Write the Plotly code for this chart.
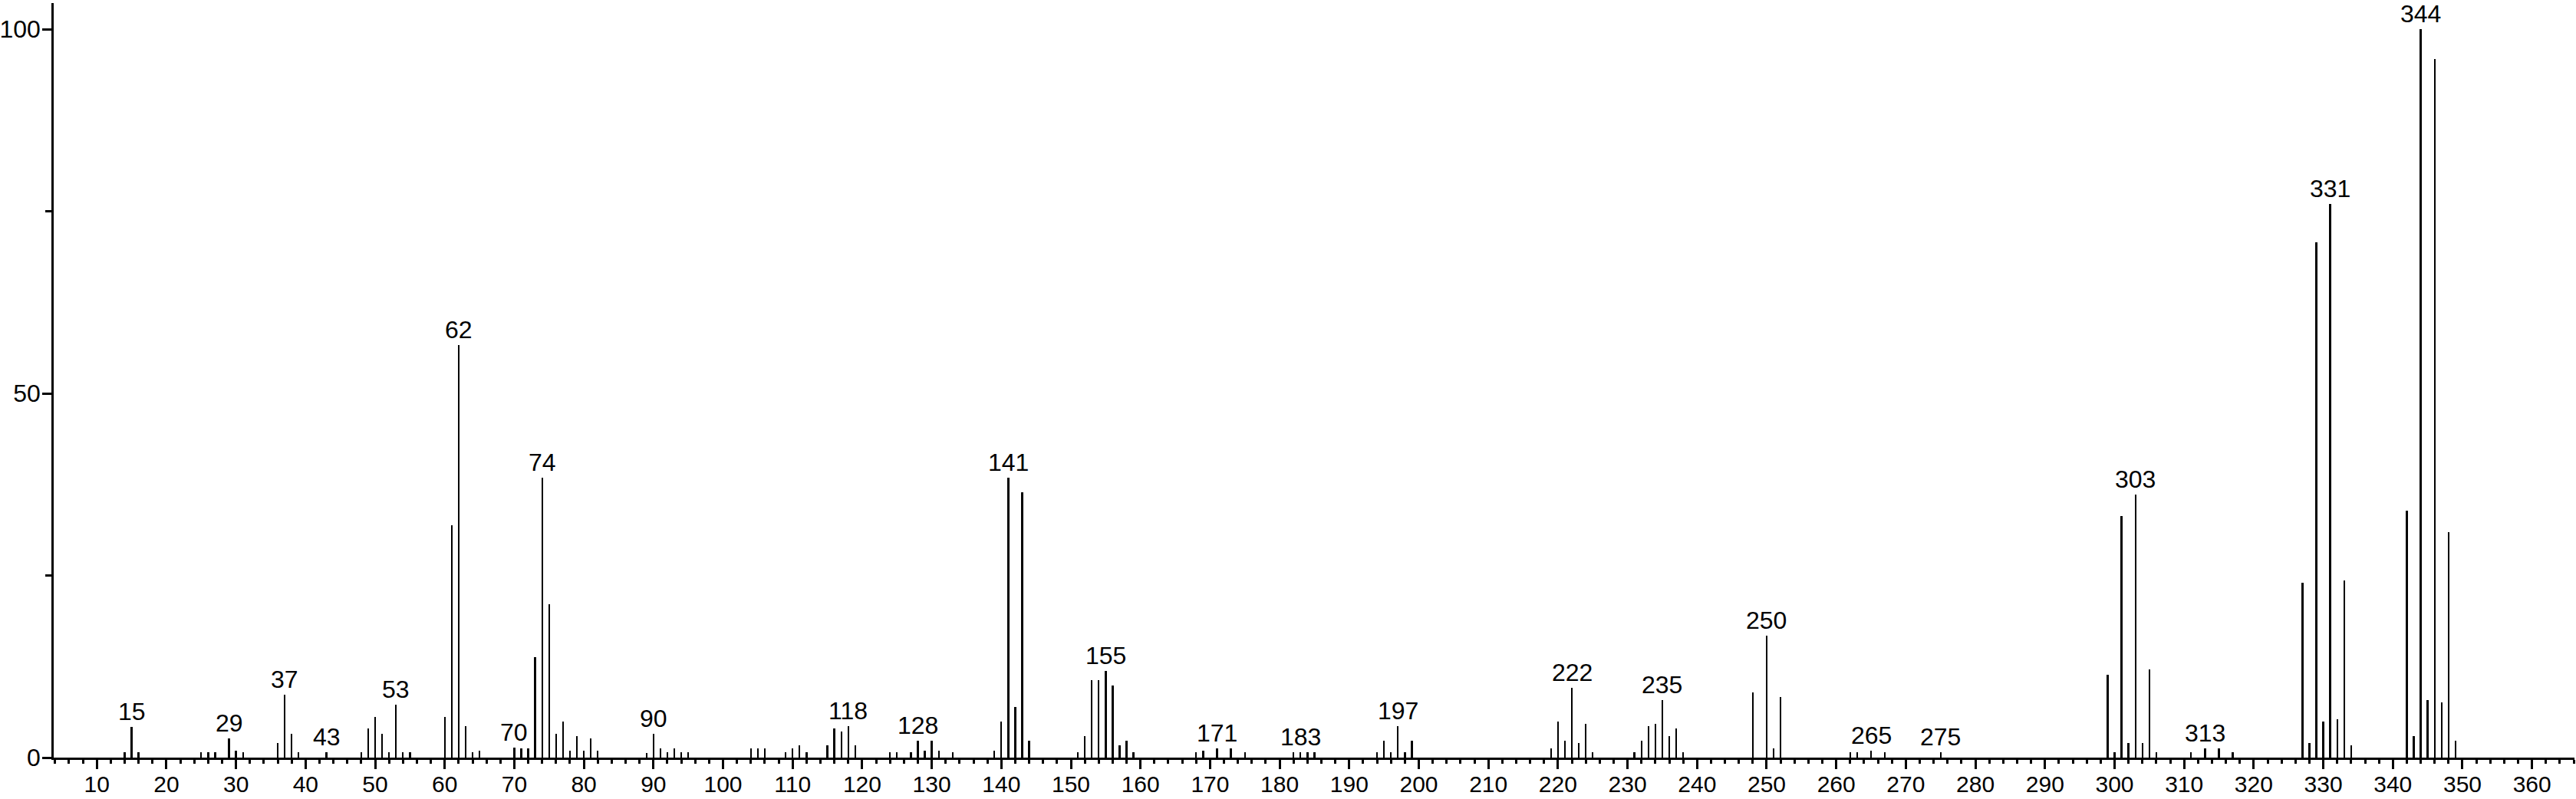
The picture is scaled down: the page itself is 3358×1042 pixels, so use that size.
import plotly.graph_objects as go

# m/z values and relative intensities
mz = [14, 15, 16, 25, 26, 27, 29, 30, 31, 36, 37, 38, 39, 43,
      48, 49, 50, 51, 52, 53, 54, 55, 60, 61, 62, 63, 64, 65,
      70, 71, 72, 73, 74, 75, 76, 77, 78, 79, 80, 81, 82,
      89, 90, 91, 92, 93, 94, 95, 104, 105, 106, 109, 110, 111, 112,
      115, 116, 117, 118, 119, 124, 125, 127, 128, 129, 130, 131, 133,
      139, 140, 141, 142, 143, 144, 151, 152, 153, 154, 155, 156, 157, 158, 159,
      168, 169, 171, 173, 175, 182, 183, 184, 185,
      194, 195, 196, 197, 198, 199, 219, 220, 221, 222, 223, 224, 225,
      231, 232, 233, 234, 235, 236, 237, 238, 248, 250, 251, 252,
      262, 263, 265, 267, 275,
      299, 300, 301, 302, 303, 304, 305, 306, 311, 313, 315, 317,
      327, 328, 329, 330, 331, 332, 333, 334,
      342, 343, 344, 345, 346, 347, 348, 349]

intensity = [0.7, 4.2, 0.7, 0.7, 0.7, 0.7, 2.6, 1.0, 0.7, 2.0, 8.6, 3.3, 0.7, 0.7,
             0.7, 4.0, 5.6, 3.3, 0.7, 7.3, 0.7, 0.7, 5.6, 31.9, 56.6, 4.3, 0.7, 1.0,
             1.4, 1.3, 1.3, 13.8, 38.4, 21.1, 3.3, 4.9, 1.0, 3.0, 1.0, 2.6, 1.0,
             0.6, 3.3, 1.3, 0.7, 1.3, 0.7, 0.7, 1.3, 1.3, 1.3, 0.7, 1.3, 1.7, 0.7,
             1.7, 4.0, 3.6, 4.3, 1.7, 0.7, 0.7, 0.7, 2.3, 1.0, 2.3, 1.0, 0.7,
             1.0, 4.9, 38.4, 6.9, 36.4, 2.3, 0.7, 3.0, 10.6, 10.6, 11.9, 9.9, 1.7, 2.3, 0.7,
             0.7, 1.0, 1.3, 1.3, 0.7, 0.7, 0.7, 0.7, 0.7,
             0.7, 2.3, 0.7, 4.3, 0.7, 2.3, 1.3, 4.9, 2.3, 9.6, 2.0, 4.6, 0.7,
             0.7, 2.3, 4.3, 4.6, 7.9, 3.0, 4.0, 0.7, 8.9, 16.7, 1.3, 8.3,
             0.7, 0.7, 1.0, 0.7, 0.7,
             11.4, 0.7, 33.2, 2.0, 36.1, 2.0, 12.1, 0.7, 0.7, 1.3, 1.3, 0.7,
             24.0, 2.0, 70.7, 4.9, 76.0, 5.3, 24.3, 1.7,
             33.9, 3.0, 100.0, 7.9, 95.9, 7.6, 31.0, 2.3]

# peaks carrying a m/z label
labelled = [15, 29, 37, 43, 53, 62, 70, 74, 90, 118, 128, 141, 155, 171, 183,
            197, 222, 235, 250, 265, 275, 303, 313, 331, 344]

x_ticks = list(range(10, 361, 10))
y_ticks = [0, 50, 100]

FONT = "Arial, Liberation Sans, sans-serif"

fig = go.Figure()
fig.add_trace(go.Bar(x=mz, y=intensity, width=0.26,
                     marker=dict(color="black", line=dict(width=0)),
                     hoverinfo="x+y"))

lookup = dict(zip(mz, intensity))
for m in labelled:
    fig.add_annotation(x=m, y=lookup[m], text=str(m), showarrow=False,
                       yanchor="bottom", xanchor="center", yshift=0,
                       font=dict(family=FONT, size=32, color="black"))

fig.update_layout(
    width=3358, height=1042,
    margin=dict(l=70, r=2, t=4, b=54, autoexpand=False),
    paper_bgcolor="white", plot_bgcolor="white",
    showlegend=False, bargap=0,
    font=dict(family=FONT, color="black"),
)
fig.update_xaxes(
    range=[3.8, 366.1], showgrid=False, zeroline=False, automargin=False,
    showline=True, linecolor="black", linewidth=2.5,
    ticks="outside", tickvals=x_ticks, ticktext=[str(v) for v in x_ticks],
    ticklen=12, tickwidth=2.5, tickcolor="black", ticklabelstandoff=-6,
    tickfont=dict(family=FONT, size=30, color="black"),
    minor=dict(ticks="outside", dtick=2, tick0=0, ticklen=5, tickwidth=2.5,
               tickcolor="black", showgrid=False),
)
fig.update_yaxes(
    range=[0, 103.6], showgrid=False, zeroline=False, automargin=False,
    showline=True, linecolor="black", linewidth=2.5,
    ticks="outside", tickvals=y_ticks, ticktext=[str(v) for v in y_ticks],
    ticklen=12, tickwidth=2.5, tickcolor="black", ticklabelstandoff=-4,
    tickfont=dict(family=FONT, size=32, color="black"),
    minor=dict(ticks="outside", tickvals=[25, 75], ticklen=8, tickwidth=2.5,
               tickcolor="black", showgrid=False),
)

fig.write_html("out.html", config={"displayModeBar": False},
               post_script="document.body.style.margin='0';document.body.style.overflow='hidden';")
